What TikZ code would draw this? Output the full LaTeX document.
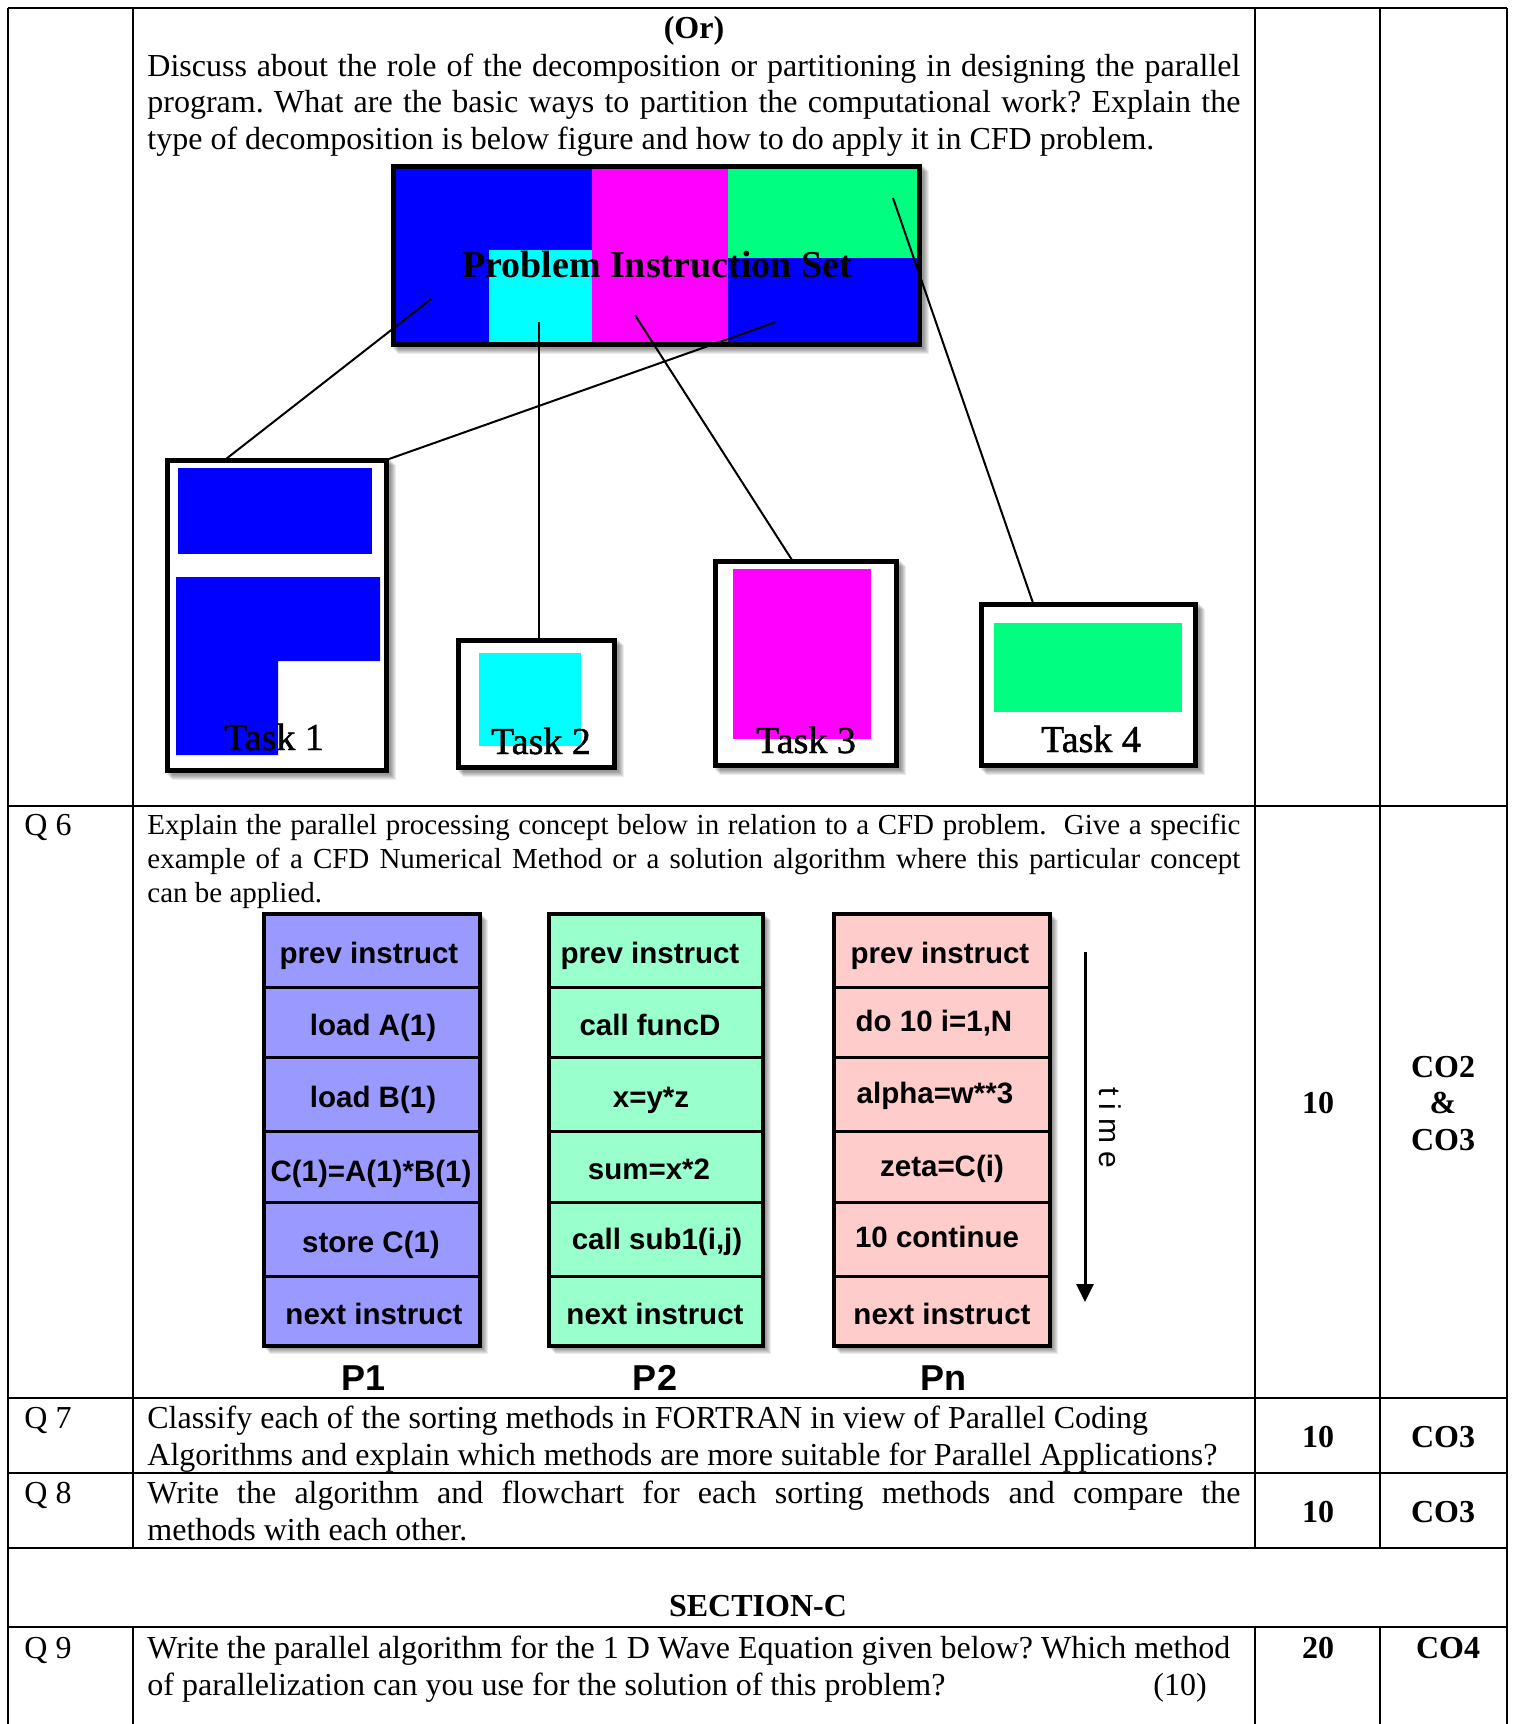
\documentclass[tikz,border=0pt]{standalone}
\usepackage{fontspec}
\setmainfont{Liberation Serif}
\newfontfamily\sansfam{Liberation Sans}
\newfontfamily\heavyserif{Liberation Serif}[FakeBold=1.2]
\usetikzlibrary{arrows.meta}
\definecolor{pblue}{RGB}{0,0,255}
\definecolor{pmag}{RGB}{255,0,255}
\definecolor{pcyan}{RGB}{0,255,255}
\definecolor{pgreen}{RGB}{0,255,128}
\definecolor{cpone}{RGB}{153,153,255}
\definecolor{cptwo}{RGB}{153,255,204}
\definecolor{cpn}{RGB}{255,204,204}
\newcommand{\myshadow}[4]{\foreach \k in {1,...,6}{\fill[black,opacity=0.08] (#1+\k+1,#2+\k+1) rectangle (#3+\k+1,#4+\k+1);}}
\newcommand{\jline}[1]{\makebox[546.5pt][s]{#1}}
\frenchspacing
\begin{document}
\begin{tikzpicture}[x=0.5pt,y=-0.5pt,
  txt/.style={anchor=base west,inner sep=0pt,font=\fontsize{16}{19}\selectfont},
  qsix/.style={anchor=base west,inner sep=0pt,font=\fontsize{14.5}{17}\selectfont},
  bnum/.style={anchor=base,inner sep=0pt,font=\fontsize{16}{19}\selectfont\bfseries},
  cell/.style={anchor=base,inner sep=0pt,font=\sansfam\bfseries\fontsize{14.75}{17}\selectfont},
  plabel/.style={anchor=base,inner sep=0pt,font=\sansfam\bfseries\fontsize{18}{21}\selectfont},
  tasklbl/.style={anchor=base,inner sep=0pt,font=\heavyserif\fontsize{19}{22}\selectfont},
  grid/.style={line width=1pt},
  taskbox/.style={line width=2.5pt,draw=black},
  conn/.style={line width=1pt,black},
  colbox/.style={line width=2pt,draw=black},
  divider/.style={line width=1.5pt}]
\useasboundingbox (0,0) rectangle (1513,1724);
\fill[white] (0,0) rectangle (1513,1724);

% ---------- table grid ----------
\draw[grid] (8,8) -- (1507,8);
\draw[grid] (8,806) -- (1507,806);
\draw[grid] (8,1398) -- (1507,1398);
\draw[grid] (8,1473) -- (1507,1473);
\draw[grid] (8,1548) -- (1507,1548);
\draw[grid] (8,1627) -- (1507,1627);
\draw[grid] (8,8) -- (8,1724);
\draw[grid] (1507,8) -- (1507,1724);
\foreach \cx in {133,1255,1380}{
  \draw[grid] (\cx,8) -- (\cx,1548);
  \draw[grid] (\cx,1627) -- (\cx,1724);
}

% ---------- row 1 text ----------
\node[bnum] (orlbl) at (694,39) {(Or)};
\node[txt] (r1a) at (147,76) {\jline{Discuss about the role of the decomposition or partitioning in designing the parallel}};
\node[txt] (r1b) at (147,112) {\jline{program. What are the basic ways to partition the computational work? Explain the}};
\node[txt] (r1c) at (147,149) {type of decomposition is below figure and how to do apply it in CFD problem.};

% ---------- decomposition figure ----------
\myshadow{391}{164}{922}{347}
\fill[pblue] (393,166) rectangle (592,345);
\fill[pcyan] (489,250) rectangle (592,345);
\fill[pmag] (592,166) rectangle (728,345);
\fill[pgreen] (728,166) rectangle (920,258);
\fill[pblue] (728,258) rectangle (920,345);
\draw[taskbox] (393.5,166.5) rectangle (919.5,344.5);
\node[anchor=base,inner sep=0pt,font=\fontsize{19}{22}\selectfont\bfseries] (pis) at (657,277) {Problem Instruction Set};

\coordinate (s1) at (431,299);
\coordinate (s2) at (539,322);
\coordinate (s3) at (635,315);
\coordinate (s4) at (893,198);
\coordinate (s5) at (776,322);
\coordinate (t1) at (226,459);
\coordinate (t1r) at (389,459);
\coordinate (t2) at (539,639);
\coordinate (t3) at (792,560);
\coordinate (t4) at (1033,603);
\draw[conn] (s1) -- (t1);
\draw[conn] (s5) -- (t1r);
\draw[conn] (s2) -- (t2);
\draw[conn] (s3) -- (t3);
\draw[conn] (s4) -- (t4);

% Task 1
\myshadow{165}{458}{389}{773}
\fill[white] (165,458) rectangle (389,773);
\fill[pblue] (178,468) rectangle (372,554);
\fill[pblue] (176,577) -- (380,577) -- (380,661) -- (278,661) -- (278,755) -- (176,755) -- cycle;
\draw[taskbox] (167.5,460.5) rectangle (386.5,770.5);
\node[tasklbl] (task1) at (274,750) {Task 1};
% Task 2
\myshadow{456}{638}{617}{770}
\fill[white] (456,638) rectangle (617,770);
\fill[pcyan] (479,653) rectangle (581,746);
\draw[taskbox] (458.5,640.5) rectangle (614.5,767.5);
\node[tasklbl] (task2) at (541,754) {Task 2};
% Task 3
\myshadow{713}{559}{899}{768}
\fill[white] (713,559) rectangle (899,768);
\fill[pmag] (733,569) rectangle (871,739);
\draw[taskbox] (715.5,561.5) rectangle (896.5,765.5);
\node[tasklbl] (task3) at (806,753) {Task 3};
% Task 4
\myshadow{979}{602}{1198}{768}
\fill[white] (979,602) rectangle (1198,768);
\fill[pgreen] (994,623) rectangle (1182,712);
\draw[taskbox] (981.5,604.5) rectangle (1195.5,765.5);
\node[tasklbl] (task4) at (1091,752) {Task 4};

% ---------- Q6 ----------
\node[txt] (q6) at (24,835) {Q 6};
\node[qsix] (q6a) at (147,834) {\jline{Explain the parallel processing concept below in relation to a CFD problem.\ \ Give a specific}};
\node[qsix] (q6b) at (147,868) {\jline{example of a CFD Numerical Method or a solution algorithm where this particular concept}};
\node[qsix] (q6c) at (147,902) {can be applied.};

% processor columns
\myshadow{263}{913}{481}{1347}
\myshadow{548}{913}{764}{1347}
\myshadow{833}{913}{1051}{1347}
\fill[cpone] (263,913) rectangle (481,1347);
\fill[cptwo] (548,913) rectangle (764,1347);
\fill[cpn] (833,913) rectangle (1051,1347);
\foreach \ry in {987,1057,1131,1202,1276}{
  \draw[divider] (263,\ry) -- (481,\ry);
  \draw[divider] (548,\ry) -- (764,\ry);
  \draw[divider] (833,\ry) -- (1051,\ry);
}
\draw[colbox] (264,914) rectangle (480,1346);
\draw[colbox] (549,914) rectangle (763,1346);
\draw[colbox] (834,914) rectangle (1050,1346);

\node[cell] (a1) at (369,963) {prev instruct};
\node[cell] (a2) at (373,1035) {load A(1)};
\node[cell] (a3) at (373,1107) {load B(1)};
\node[cell] (a4) at (371,1181) {C(1)=A(1)*B(1)};
\node[cell] (a5) at (371,1252) {store C(1)};
\node[cell] (a6) at (374,1324) {next instruct};

\node[cell] (b1) at (650,963) {prev instruct};
\node[cell] (b2) at (650,1035) {call funcD};
\node[cell] (b3) at (651,1107) {x=y*z};
\node[cell] (b4) at (649,1179) {sum=x*2};
\node[cell] (b5) at (657,1249) {call sub1(i,j)};
\node[cell] (b6) at (655,1324) {next instruct};

\node[cell] (c1) at (940,963) {prev instruct};
\node[cell] (c2) at (934,1031) {do 10 i=1,N};
\node[cell] (c3) at (935,1103) {alpha=w**3};
\node[cell] (c4) at (942,1176) {zeta=C(i)};
\node[cell] (c5) at (937,1247) {10 continue};
\node[cell] (c6) at (942,1324) {next instruct};

\node[plabel] (lp1) at (364,1390) {P1};
\node[plabel] (lp2) at (655,1390) {P2};
\node[plabel] (lpn) at (943,1390) {Pn};

\coordinate (tstart) at (1085,952);
\coordinate (tend) at (1085,1302);
\draw[line width=1.5pt,-{Triangle[width=8.5pt,length=9pt]}] (tstart) -- (tend);
\node[rotate=-90,inner sep=0pt,font=\sansfam\fontsize{15}{17}\selectfont] (timelbl) at (1110,1128) {t\hspace{4pt}i\hspace{4pt}m\hspace{4pt}e};

\node[bnum] (m6) at (1318,1113) {10};
\node[bnum] (co6a) at (1443,1077) {CO2};
\node[bnum] (co6b) at (1443,1113) {\&};
\node[bnum] (co6c) at (1443,1150) {CO3};

% ---------- Q7 ----------
\node[txt] (q7) at (24,1428) {Q 7};
\node[txt] (q7a) at (147,1428) {Classify each of the sorting methods in FORTRAN in view of Parallel Coding};
\node[txt] (q7b) at (147,1465) {Algorithms and explain which methods are more suitable for Parallel Applications?};
\node[bnum] (m7) at (1318,1447) {10};
\node[bnum] (co7) at (1443,1447) {CO3};

% ---------- Q8 ----------
\node[txt] (q8) at (24,1503) {Q 8};
\node[txt] (q8a) at (147,1503) {\jline{Write the algorithm and flowchart for each sorting methods and compare the}};
\node[txt] (q8b) at (147,1540) {methods with each other.};
\node[bnum] (m8) at (1318,1522) {10};
\node[bnum] (co8) at (1443,1522) {CO3};

% ---------- Section C ----------
\node[bnum] (secc) at (758,1616) {SECTION-C};

% ---------- Q9 ----------
\node[txt] (q9) at (24,1658) {Q 9};
\node[txt] (q9a) at (147,1658) {Write the parallel algorithm for the 1 D Wave Equation given below? Which method};
\node[txt] (q9b) at (147,1695) {of parallelization can you use for the solution of this problem?};
\node[txt] (q9m) at (1153,1695) {(10)};
\node[bnum] (m9) at (1318,1658) {20};
\node[bnum] (co9) at (1448,1658) {CO4};
\end{tikzpicture}
\end{document}
